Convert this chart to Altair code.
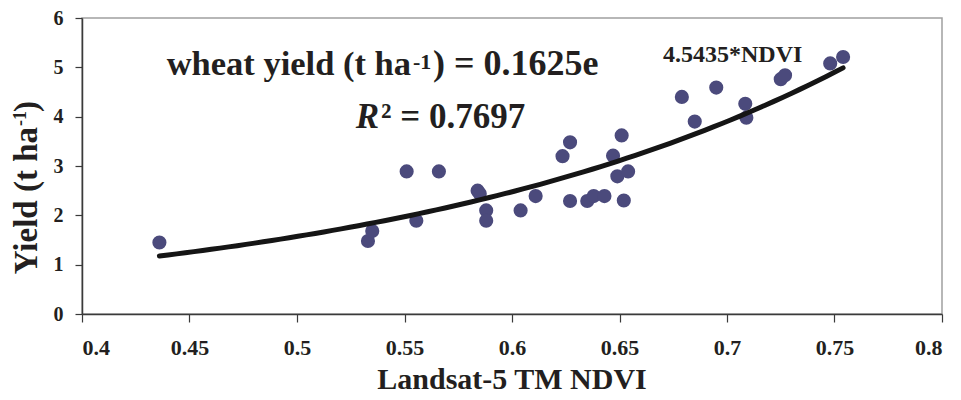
import altair as alt
import numpy as np
import pandas as pd

# ---- data ----
ndvi = [0.436, 0.533, 0.535, 0.551, 0.5555, 0.566, 0.584, 0.585, 0.588, 0.588,
        0.604, 0.611, 0.6235, 0.627, 0.627, 0.635, 0.638, 0.643, 0.647, 0.651,
        0.649, 0.654, 0.652, 0.679, 0.685, 0.695, 0.7085, 0.709, 0.725, 0.727,
        0.748, 0.754]
yield_t = [1.45, 1.48, 1.68, 2.89, 1.89, 2.89, 2.50, 2.44, 2.10, 1.89,
           2.10, 2.39, 3.20, 3.48, 2.29, 2.29, 2.39, 2.39, 3.21, 3.62,
           2.79, 2.89, 2.30, 4.40, 3.90, 4.59, 4.26, 3.98, 4.76, 4.84,
           5.08, 5.21]
x_ticks = [0.4, 0.45, 0.5, 0.55, 0.6, 0.65, 0.7, 0.75, 0.8]
y_ticks = [0, 1, 2, 3, 4, 5, 6]

eq_main = "wheat yield (t ha"
eq_sup = "-1"
eq_tail = ") = 0.1625e"
eq_exp = "4.5435*NDVI"
r2_R = "R"
r2_rest = "² = 0.7697"
x_title = "Landsat-5 TM NDVI"
y_title_main = "Yield (t ha"
y_title_sup = "-1"
y_title_tail = ")"

FONT = "Liberation Serif"
TXT = "#231f20"

df = pd.DataFrame({"ndvi": ndvi, "yield": yield_t})

# exponential trendline fitted like a spreadsheet does (least squares on ln y)
b, ln_a = np.polyfit(np.array(ndvi), np.log(np.array(yield_t)), 1)
fx = np.linspace(min(ndvi), max(ndvi), 80)
fit = pd.DataFrame({"ndvi": fx, "yield": np.exp(ln_a) * np.exp(b * fx)})

xscale = alt.Scale(domain=[0.4, 0.8], nice=False, zero=False)
yscale = alt.Scale(domain=[0, 6], nice=False)

points = alt.Chart(df).mark_circle(size=200, color="#4b4a7c", opacity=1).encode(
    x=alt.X("ndvi:Q", scale=xscale,
            axis=alt.Axis(values=x_ticks, format=".2~f", title=None,
                          tickSize=8, labelPadding=15, labelFontSize=22)),
    y=alt.Y("yield:Q", scale=yscale,
            axis=alt.Axis(values=y_ticks, title=None,
                          tickSize=7, labelPadding=12, labelFontSize=20)),
)

line = alt.Chart(fit).mark_line(
    color="#151515", strokeWidth=5, strokeCap="round"
).encode(x=alt.X("ndvi:Q", scale=xscale), y=alt.Y("yield:Q", scale=yscale))

one = alt.Chart(alt.Data(values=[{"a": 1}]))


def txt(s, x, y, size, align="left", angle=0, style="normal"):
    return one.mark_text(
        text=s, font=FONT, fontSize=size, fontWeight="bold", fontStyle=style,
        align=align, baseline="alphabetic", angle=angle, color=TXT
    ).encode(x=alt.value(x), y=alt.value(y))


texts = [
    txt(eq_main, 329, 57, 34.5, align="right"),
    txt(eq_sup, 331, 50.5, 22),
    txt(eq_tail, 351, 57, 36),
    txt(eq_exp, 581, 44, 24),
    txt(r2_R, 297, 110, 35, align="right", style="italic"),
    txt(r2_rest, 299, 110, 35),
    txt(x_title, 430, 371, 30, align="center"),
    txt(y_title_main, -45, 109, 33, align="right", angle=270),
    txt(y_title_sup, -56, 108, 18, align="left", angle=270),
    txt(y_title_tail, -45, 94, 33, align="left", angle=270),
]

chart = alt.layer(points, line, *texts).properties(
    width=860, height=296,
    padding={"left": 74, "top": 10, "right": 8, "bottom": 82},
    autosize=alt.AutoSizeParams(type="none"),
).configure_view(
    stroke="#a0a0a0", strokeWidth=1.5
).configure_axis(
    grid=False, domainColor="#3a3a3a", domainWidth=1.5, tickColor="#3a3a3a",
    tickWidth=1.2, labelFont=FONT, labelFontWeight="bold", labelColor=TXT,
)

chart.save("out.html", embed_options={"renderer": "svg", "actions": False})
